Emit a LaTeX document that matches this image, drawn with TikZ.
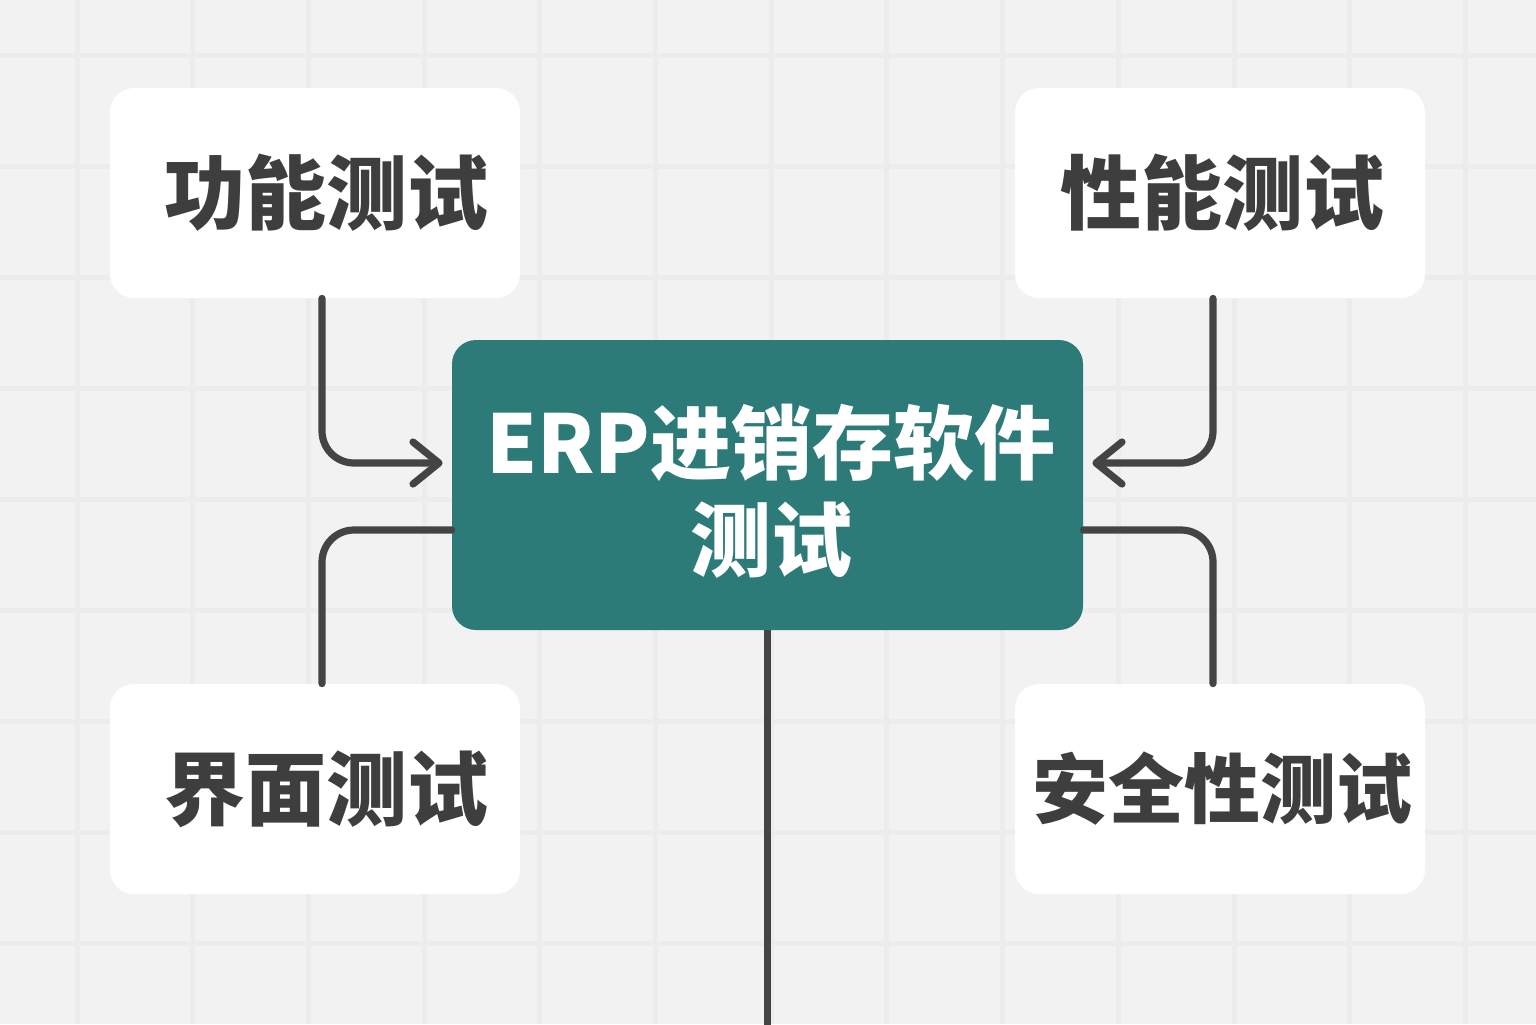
\documentclass[tikz,border=0pt]{standalone}
\usepackage{fontspec}
\setmainfont{Noto Sans CJK SC}
\usetikzlibrary{arrows.meta}
\definecolor{bgc}{RGB}{242,242,242}
\definecolor{gridc}{RGB}{236,236,236}
\definecolor{teal1}{RGB}{44,123,121}
\definecolor{linec}{RGB}{68,68,68}
\definecolor{txtc}{RGB}{62,62,62}
\tikzset{
  leaf/.style={rectangle, rounded corners=12pt, fill=white, draw=none,
    minimum width=205pt, minimum height=105pt, inner sep=0pt,
    font=\fontsize{40.5pt}{48pt}\selectfont\bfseries, text=txtc},
  hub/.style={rectangle, rounded corners=12pt, fill=teal1, draw=none,
    minimum width=315.5pt, minimum height=145pt, inner sep=0pt},
  hubtext/.style={inner sep=0pt, align=center, text=white,
    font=\fontsize{40.5pt}{48.5pt}\selectfont\bfseries},
  conn/.style={draw=linec, line width=3.6pt, rounded corners=16pt, line cap=round},
  tipc/.style={-{Straight Barb[length=13pt,width=21pt,round]}}
}
\begin{document}
\begin{tikzpicture}[x=0.5pt,y=-0.5pt]
  \fill[bgc] (0,0) rectangle (1536,1024);
  \useasboundingbox (0,0) rectangle (1536,1024);
  \foreach \k in {0,...,12} {
    \draw[gridc, line width=2.5pt] ({77+115.7*\k},0) -- ({77+115.7*\k},1024);
  }
  \foreach \k in {0,...,8} {
    \draw[gridc, line width=2.5pt] (0,{55+111*\k}) -- (1536,{55+111*\k});
  }
  \node[leaf] (gn) at (315,193) {\hspace*{11pt}功能测试};
  \node[leaf] (xn) at (1220,193) {\hspace*{2pt}性能测试};
  \node[leaf] (jm) at (315,789) {\hspace*{11pt}界面测试};
  \node[leaf, font=\fontsize{38pt}{46pt}\selectfont\bfseries] (aq) at (1220,789) {\hspace*{2pt}安全性测试};
  \node[hub] (c) at (767.5,485) {};
  \node[hubtext] (ct) at (771,491) {ERP进销存软件\\测试};
  \coordinate (bot) at (767.5,1030);
  \draw[conn,tipc] ([xshift=3.5pt]gn.south) |- ([xshift=-4.5pt,yshift=11pt]c.west);
  \draw[conn,tipc] ([xshift=-3.5pt]xn.south) |- ([xshift=4.5pt,yshift=11pt]c.east);
  \draw[conn] ([yshift=-22.5pt]c.west) -| ([xshift=3.5pt]jm.north);
  \draw[conn] ([yshift=-22.5pt]c.east) -| ([xshift=-3.5pt]aq.north);
  \draw[conn, line cap=butt] (c.south) -- (bot);
\end{tikzpicture}
\end{document}
